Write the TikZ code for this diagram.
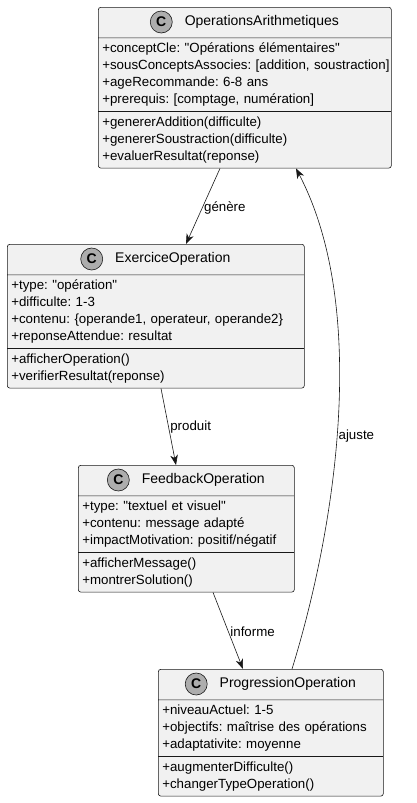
\documentclass[tikz,border=0pt]{standalone}
\usepackage{fontspec}
\setmainfont{Liberation Sans}[Ligatures=TeXOff]
\usetikzlibrary{arrows.meta,positioning,shapes.multipart}
\definecolor{UMLFill}{HTML}{F1F1F1}
\definecolor{UMLLine}{HTML}{181818}
\definecolor{UMLIcon}{HTML}{ADADAD}
\frenchspacing
\newcommand{\umlfont}{\fontsize{13.3}{17}\selectfont}
\newcommand{\umlname}{\fontsize{14}{17}\selectfont}
\newcommand{\mline}[1]{\strut\mbox{#1}}
\newcommand{\hdr}{\rule{0pt}{25pt}}
\begin{document}
\begin{tikzpicture}[x=1pt,y=-1pt,>={Stealth[length=10pt,width=7.5pt,inset=3pt]}]
\tikzset{umlclass/.style={rectangle split,rectangle split parts=3,draw=UMLLine,fill=UMLFill,line width=.6pt,rounded corners=2.5pt,anchor=north west,inner xsep=4pt,inner ysep=2.5pt,font=\umlfont,align=left},cicon/.style={circle,draw=UMLLine,fill=UMLIcon,line width=.6pt,minimum size=22pt,inner sep=0pt,font=\umlname\bfseries},cname/.style={inner sep=0pt,font=\umlname},rel/.style={->,draw=UMLLine,line width=.6pt},rlabel/.style={font=\umlfont,anchor=west,inner sep=1.5pt}}
\useasboundingbox (0,0) rectangle (417,803);
\node[umlclass,text width=285pt] (ops) at (98,7) {\hdr\nodepart{two}\mline{+conceptCle: "Opérations élémentaires"}\\\mline{+sousConceptsAssocies: [addition, soustraction]}\\\mline{+ageRecommande: 6-8 ans}\\\mline{+prerequis: [comptage, numération]}\nodepart{three}\mline{+genererAddition(difficulte)}\\\mline{+genererSoustraction(difficulte)}\\\mline{+evaluerResultat(reponse)}};
\node[cname] (ops-n) at ([xshift=17pt,yshift=-15pt]ops.north) {OperationsArithmetiques};\node[cicon,left=12pt of ops-n] {C};
\node[umlclass,text width=289pt] (exer) at (7,244) {\hdr\nodepart{two}\mline{+type: "opération"}\\\mline{+difficulte: 1-3}\\\mline{+contenu: \{operande1, operateur, operande2\}}\\\mline{+reponseAttendue: resultat}\nodepart{three}\mline{+afficherOperation()}\\\mline{+verifierResultat(reponse)}};
\node[cname] (exer-n) at ([xshift=17pt,yshift=-15pt]exer.north) {ExerciceOperation};\node[cicon,left=12pt of exer-n] {C};
\node[umlclass,text width=208pt] (feed) at (78,465) {\hdr\nodepart{two}\mline{+type: "textuel et visuel"}\\\mline{+contenu: message adapté}\\\mline{+impactMotivation: positif/négatif}\nodepart{three}\mline{+afficherMessage()}\\\mline{+montrerSolution()}};
\node[cname] (feed-n) at ([xshift=17pt,yshift=-15pt]feed.north) {FeedbackOperation};\node[cicon,left=12pt of feed-n] {C};
\node[umlclass,text width=217pt] (prog) at (158,669) {\hdr\nodepart{two}\mline{+niveauActuel: 1-5}\\\mline{+objectifs: maîtrise des opérations}\\\mline{+adaptativite: moyenne}\nodepart{three}\mline{+augmenterDifficulte()}\\\mline{+changerTypeOperation()}};
\node[cname] (prog-n) at ([xshift=17pt,yshift=-15pt]prog.north) {ProgressionOperation};\node[cicon,left=12pt of prog-n] {C};
\draw[rel] ([xshift=122pt]ops.south west) -- node[rlabel,pos=.52] {génère} ([xshift=179pt]exer.north west);
\draw[rel] ([xshift=154pt]exer.south west) -- node[rlabel,pos=.5] {produit} ([xshift=98pt]feed.north west);
\draw[rel] ([xshift=135pt]feed.south west) -- node[rlabel,pos=.52] {informe} ([xshift=85pt]prog.north west);
\draw[rel] ([xshift=134pt]prog.north west) .. controls (335,530) and (370,310) .. ([xshift=198pt]ops.south west) node[rlabel,pos=.47] {ajuste};
\end{tikzpicture}
\end{document}
